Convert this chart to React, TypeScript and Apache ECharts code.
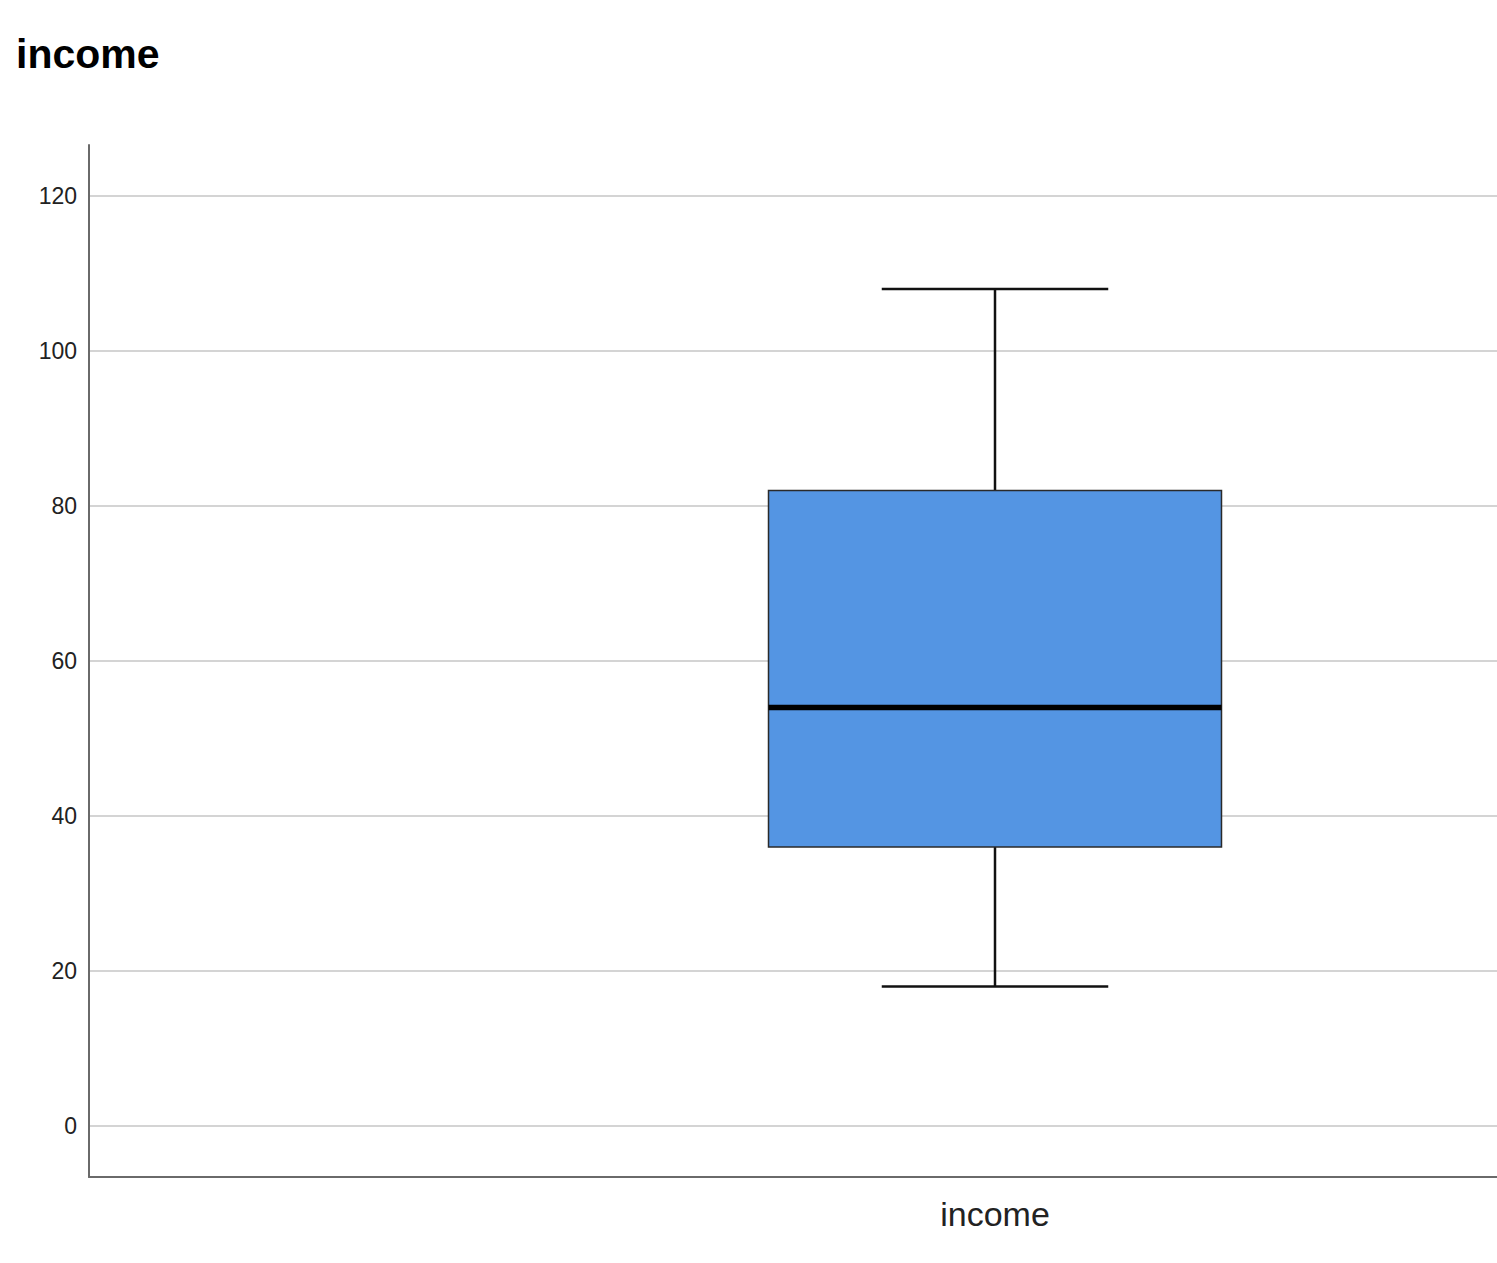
import React, { useEffect, useRef } from 'react';
import * as echarts from 'echarts';

// five-number summary
const categories = ['income'];
const lowWhisker = [18];
const q1 = [36];
const median = [54];
const q3 = [82];
const highWhisker = [108];

const titleText = 'income';
const FONT = '"Liberation Sans", Arial, sans-serif';

const App: React.FC = () => {
  const chartRef = useRef<HTMLDivElement>(null);

  useEffect(() => {
    const chart = echarts.init(chartRef.current!, undefined, { renderer: 'svg' });

    const boxData = categories.map((_, i) => [
      i,
      lowWhisker[i],
      q1[i],
      median[i],
      q3[i],
      highWhisker[i],
    ]);

    const options: any = {
      animation: false,
      backgroundColor: '#ffffff',
      title: {
        text: titleText,
        left: 8,
        top: 25,
        padding: 0,
        textStyle: { fontFamily: FONT, fontSize: 41, fontWeight: 'bold', color: '#000' },
      },
      grid: { left: 81, right: 7, top: 137, bottom: 78, containLabel: false },
      xAxis: {
        type: 'category',
        data: categories,
        boundaryGap: true,
        axisLine: { show: true, onZero: false, lineStyle: { color: '#6a6a6a', width: 2 } },
        axisTick: { show: false },
        axisLabel: { fontFamily: FONT, fontSize: 34, color: '#222', margin: 20 },
        splitLine: { show: false },
      },
      yAxis: {
        type: 'value',
        min: -6.6,
        max: 126.6,
        minInterval: 20,
        maxInterval: 20,
        splitNumber: 7,
        axisLine: { show: true, onZero: false, lineStyle: { color: '#6a6a6a', width: 2 } },
        axisTick: { show: false },
        axisLabel: {
          fontFamily: FONT,
          fontSize: 23,
          color: '#222',
          margin: 12,
          showMinLabel: false,
          showMaxLabel: false,
        },
        splitLine: {
          show: true,
          showMinLine: false,
          showMaxLine: false,
          lineStyle: { color: '#d4d4d4', width: 2 },
        },
      },
      series: [
        {
          type: 'custom',
          data: boxData,
          encode: { x: 0, y: [1, 2, 3, 4, 5] },
          renderItem: (params: any, api: any) => {
            const x = api.value(0);
            const band = api.size([1, 0])[0];
            const boxW = band * 0.25;
            const capW = boxW / 2;
            const pLow = api.coord([x, api.value(1)]);
            const pQ1 = api.coord([x, api.value(2)]);
            const pMed = api.coord([x, api.value(3)]);
            const pQ3 = api.coord([x, api.value(4)]);
            const pHigh = api.coord([x, api.value(5)]);
            const cx = pMed[0];
            const whisker = { stroke: '#111', lineWidth: 2.5 };
            return {
              type: 'group',
              children: [
                { type: 'line', shape: { x1: cx, y1: pQ3[1], x2: cx, y2: pHigh[1] }, style: whisker },
                { type: 'line', shape: { x1: cx - capW / 2, y1: pHigh[1], x2: cx + capW / 2, y2: pHigh[1] }, style: whisker },
                { type: 'line', shape: { x1: cx, y1: pQ1[1], x2: cx, y2: pLow[1] }, style: whisker },
                { type: 'line', shape: { x1: cx - capW / 2, y1: pLow[1], x2: cx + capW / 2, y2: pLow[1] }, style: whisker },
                {
                  type: 'rect',
                  shape: { x: cx - boxW / 2, y: pQ3[1], width: boxW, height: pQ1[1] - pQ3[1] },
                  style: { fill: '#5495e3', stroke: '#2a2a2a', lineWidth: 1.5 },
                },
                {
                  type: 'line',
                  shape: { x1: cx - boxW / 2, y1: pMed[1], x2: cx + boxW / 2, y2: pMed[1] },
                  style: { stroke: '#000', lineWidth: 5.5 },
                },
              ],
            };
          },
        },
      ],
    };

    chart.setOption(options);

    return () => {
      chart.dispose();
    };
  }, []);

  return (
    <div
      style={{
        position: 'fixed',
        left: 0,
        top: 0,
        width: '100vw',
        height: '100vh',
        overflow: 'hidden',
        background: '#fff',
      }}
    >
      <div ref={chartRef} style={{ marginLeft: 8, marginTop: 8, width: 1900, height: 1247 }} />
    </div>
  );
};

export default App;
